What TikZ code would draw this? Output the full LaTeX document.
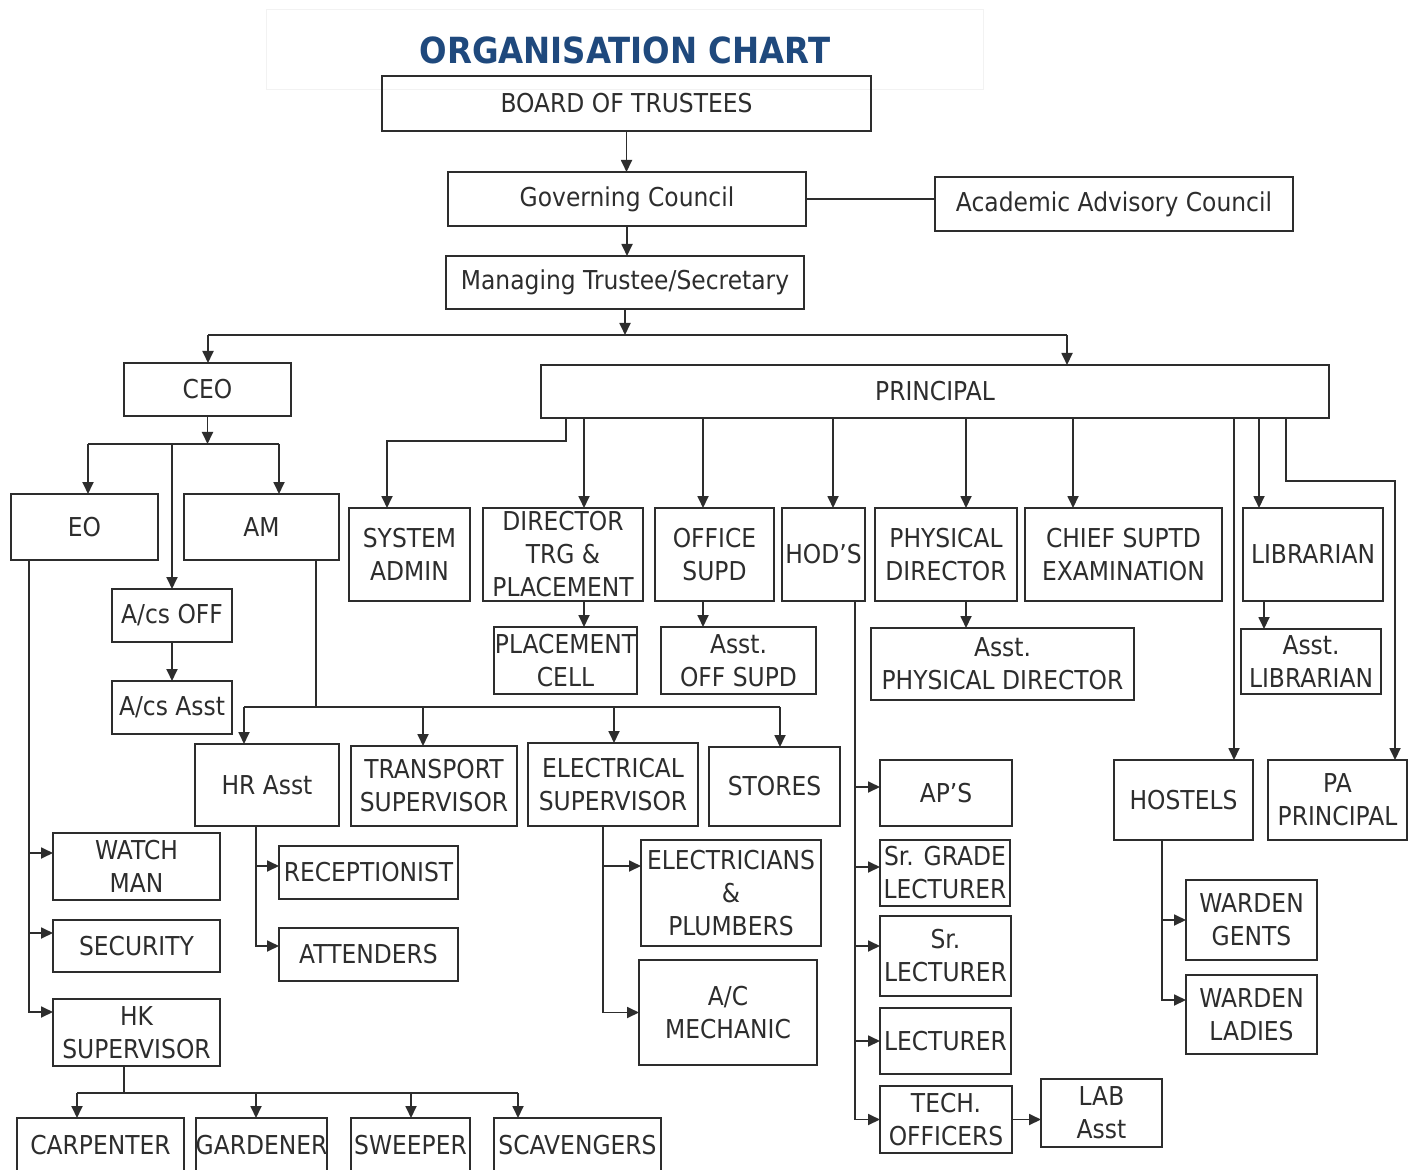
\documentclass[tikz,border=0pt]{standalone}
\usepackage{fontspec}
\setmainfont{DejaVu Sans}[FakeStretch=0.9]
\usetikzlibrary{arrows.meta,calc}
\definecolor{titleblue}{RGB}{31,73,125}
\definecolor{ink}{RGB}{45,45,45}
\newcommand\mybox[6]{%
  \node[boxst,minimum width={(#4-#2)*0.5pt},minimum height={(#5-#3)*0.5pt}] (#1) at ({(#2+#4)/2},{(#3+#5)/2}) {};
  \node[txt] (#1-t) at (#1.center) {#6};}
\begin{document}
\begin{tikzpicture}[x=0.5pt,y=-0.5pt,
  boxst/.style={draw=ink,line width=1pt,rectangle,inner sep=0pt,outer sep=0pt},
  txt/.style={inner sep=0pt,align=center,text=ink,font=\fontsize{13}{16.5}\selectfont},
  ln/.style={draw=ink,line width=0.9pt},
  arr/.style={ln,-{Triangle[length=6pt,width=5.5pt]}}]
\clip (0,0) rectangle (1417,1170);
\fill[white] (0,0) rectangle (1417,1170);
% title
\draw[black!5,line width=0.5pt] (266,10) rectangle (983,90);
\node[inner sep=0pt,text=titleblue,font=\fontsize{18}{20}\selectfont\bfseries] (title) at (625,50) {ORGANISATION CHART};
% top
\mybox{bot}{382}{76}{871}{131}{BOARD OF TRUSTEES}
\mybox{gov}{448}{172}{806}{226}{Governing Council}
\mybox{aac}{935}{177}{1293}{231}{Academic Advisory Council}
\mybox{mts}{446}{256}{804}{309}{Managing Trustee/Secretary}
\mybox{ceo}{124}{363}{291}{416}{CEO}
\mybox{prin}{541}{365}{1329}{418}{PRINCIPAL}
% CEO side
\mybox{eo}{11}{494}{158}{560}{EO}
\mybox{am}{184}{494}{339}{560}{AM}
\mybox{acsoff}{112}{589}{232}{642}{A/cs OFF}
\mybox{acsasst}{112}{681}{232}{734}{A/cs Asst}
\mybox{watch}{53}{833}{220}{900}{WATCH\\MAN}
\mybox{sec}{53}{920}{220}{972}{SECURITY}
\mybox{hk}{53}{999}{220}{1066}{HK\\SUPERVISOR}
\mybox{carp}{17}{1118}{184}{1173}{CARPENTER}
\mybox{gard}{196}{1118}{327}{1173}{GARDENER}
\mybox{sweep}{351}{1118}{470}{1173}{SWEEPER}
\mybox{scav}{494}{1118}{661}{1173}{SCAVENGERS}
\mybox{hr}{195}{744}{339}{826}{HR Asst}
\mybox{trans}{351}{746}{517}{826}{TRANSPORT\\SUPERVISOR}
\mybox{elec}{528}{743}{698}{826}{ELECTRICAL\\SUPERVISOR}
\mybox{stores}{709}{747}{840}{826}{STORES}
\mybox{recep}{279}{846}{458}{899}{RECEPTIONIST}
\mybox{atten}{279}{928}{458}{981}{ATTENDERS}
\mybox{elecp}{641}{840}{821}{946}{ELECTRICIANS\\\&\\PLUMBERS}
\mybox{acm}{639}{960}{817}{1065}{A/C\\MECHANIC}
% principal side
\mybox{sys}{349}{508}{470}{601}{SYSTEM\\ADMIN}
\mybox{dir}{483}{508}{643}{601}{DIRECTOR\\TRG \&\\PLACEMENT}
\mybox{pc}{494}{627}{637}{694}{PLACEMENT\\CELL}
\mybox{off}{655}{508}{774}{601}{OFFICE\\SUPD}
\mybox{aoff}{661}{627}{816}{694}{Asst.\\OFF SUPD}
\mybox{hod}{782}{508}{865}{601}{HOD’S}
\mybox{phys}{875}{508}{1017}{601}{PHYSICAL\\DIRECTOR}
\mybox{aphys}{871}{628}{1134}{700}{Asst.\\PHYSICAL DIRECTOR}
\mybox{chief}{1025}{508}{1222}{601}{CHIEF SUPTD\\EXAMINATION}
\mybox{lib}{1243}{508}{1383}{601}{LIBRARIAN}
\mybox{alib}{1241}{629}{1381}{694}{Asst.\\LIBRARIAN}
\mybox{aps}{880}{760}{1012}{826}{AP’S}
\mybox{srg}{880}{840}{1010}{906}{Sr. GRADE\\LECTURER}
\mybox{srl}{880}{916}{1011}{996}{Sr.\\LECTURER}
\mybox{lect}{880}{1008}{1011}{1074}{LECTURER}
\mybox{tech}{880}{1086}{1012}{1153}{TECH.\\OFFICERS}
\mybox{lab}{1041}{1079}{1162}{1147}{LAB\\Asst}
\mybox{hostels}{1114}{760}{1253}{840}{HOSTELS}
\mybox{pa}{1268}{760}{1407}{840}{PA\\PRINCIPAL}
\mybox{gents}{1186}{880}{1317}{960}{WARDEN\\GENTS}
\mybox{ladies}{1186}{975}{1317}{1054}{WARDEN\\LADIES}
% ---- connectors: top
\draw[arr] (bot.south) -- (bot.south |- gov.north);
\draw[ln] (gov.east) -- (gov.east -| aac.west);
\draw[arr] (gov.south) -- (gov.south |- mts.north);
\coordinate (b1) at (625,335);
\coordinate (b1L) at (208,335);
\coordinate (b1R) at (1067,335);
\draw[arr] (mts.south) -- (mts.south |- b1);
\draw[ln] (b1L) -- (b1R);
\draw[arr] (b1L) -- (b1L |- ceo.north);
\draw[arr] (b1R) -- (b1R |- prin.north);
% CEO
\coordinate (c1L) at (88,444);
\coordinate (c1R) at (279,444);
\draw[arr] (ceo.south) -- (ceo.south |- c1L);
\draw[ln] (c1L) -- (c1R);
\draw[arr] (c1L) -- (c1L |- eo.north);
\draw[arr] (c1R) -- (c1R |- am.north);
\draw[arr] (acsoff.north |- c1L) -- (acsoff.north);
\draw[arr] (acsoff.south) -- (acsasst.north);
% EO
\coordinate (e1) at ($(eo.south west)+(18,0)$);
\coordinate (wA) at ($(watch.north west)+(0,20)$);
\coordinate (sA) at ($(sec.north west)+(0,13)$);
\coordinate (kA) at ($(hk.north west)+(0,13)$);
\draw[arr] (e1) |- (kA);
\draw[arr] (e1 |- wA) -- (wA);
\draw[arr] (e1 |- sA) -- (sA);
% HK
\coordinate (h1) at (124,1093);
\coordinate (h1L) at (77,1093);
\coordinate (h2) at (256,1093);
\coordinate (h3) at (411,1093);
\coordinate (h1R) at (518,1093);
\draw[ln] (h1 |- hk.south) -- (h1);
\draw[ln] (h1L) -- (h1R);
\draw[arr] (h1L) -- (h1L |- carp.north);
\draw[arr] (h2) -- (h2 |- gard.north);
\draw[arr] (h3) -- (h3 |- sweep.north);
\draw[arr] (h1R) -- (h1R |- scav.north);
% AM
\coordinate (a1) at (316,707);
\coordinate (a1L) at (244,707);
\coordinate (a2) at (423,707);
\coordinate (a3) at (614,707);
\coordinate (a1R) at (780,707);
\draw[ln] (a1 |- am.south) -- (a1);
\draw[ln] (a1L) -- (a1R);
\draw[arr] (a1L) -- (a1L |- hr.north);
\draw[arr] (a2) -- (a2 |- trans.north);
\draw[arr] (a3) -- (a3 |- elec.north);
\draw[arr] (a1R) -- (a1R |- stores.north);
% HR
\coordinate (r1) at (256,0);
\coordinate (rA) at ($(recep.north west)+(0,20)$);
\coordinate (rB) at ($(atten.north west)+(0,18)$);
\draw[arr] (r1 |- hr.south) |- (rB);
\draw[arr] (r1 |- rA) -- (rA);
% Electrical
\coordinate (el) at (603,0);
\coordinate (eA) at ($(elecp.north west)+(0,26)$);
\draw[arr] (el |- elec.south) |- (acm.west);
\draw[arr] (el |- eA) -- (eA);
% Principal
\coordinate (s1) at (566,441);
\coordinate (s2) at (387,441);
\draw[arr] (s1 |- prin.south) -- (s1) -- (s2) -- (s2 |- sys.north);
\coordinate (pd) at (584,0);
\draw[arr] (pd |- prin.south) -- (pd |- dir.north);
\draw[arr] (pd |- dir.south) -- (pd |- pc.north);
\coordinate (po) at (703,0);
\draw[arr] (po |- prin.south) -- (po |- off.north);
\draw[arr] (po |- off.south) -- (po |- aoff.north);
\coordinate (ph) at (833,0);
\draw[arr] (ph |- prin.south) -- (ph |- hod.north);
\coordinate (pp) at (966,0);
\draw[arr] (pp |- prin.south) -- (pp |- phys.north);
\draw[arr] (pp |- phys.south) -- (pp |- aphys.north);
\coordinate (pc1) at (1073,0);
\draw[arr] (pc1 |- prin.south) -- (pc1 |- chief.north);
\coordinate (pl) at (1259,0);
\coordinate (pl2) at (1264,0);
\draw[arr] (pl |- prin.south) -- (pl |- lib.north);
\draw[arr] (pl2 |- lib.south) -- (pl2 |- alib.north);
\coordinate (phs) at (1234,0);
\draw[arr] (phs |- prin.south) -- (phs |- hostels.north);
\coordinate (pa1) at (1286,481);
\coordinate (pa2) at (1395,481);
\draw[arr] (pa1 |- prin.south) -- (pa1) -- (pa2) -- (pa2 |- pa.north);
% HOD line
\coordinate (hx) at (855,0);
\coordinate (apsA) at ($(aps.north west)+(0,27)$);
\coordinate (srgA) at ($(srg.north west)+(0,27)$);
\coordinate (srlA) at ($(srl.north west)+(0,30)$);
\draw[ln] (hx |- hod.south) -- (hx |- tech.west);
\draw[arr] (hx |- apsA) -- (apsA);
\draw[arr] (hx |- srgA) -- (srgA);
\draw[arr] (hx |- srlA) -- (srlA);
\draw[arr] (hx |- lect.west) -- (lect.west);
\draw[arr] (hx |- tech.west) -- (tech.west);
\draw[arr] (tech.east) -- (tech.east -| lab.west);
% Hostels
\coordinate (hx2) at (1162,0);
\coordinate (ladA) at ($(ladies.north west)+(0,25)$);
\draw[arr] (hx2 |- hostels.south) |- (ladA);
\draw[arr] (hx2 |- gents.west) -- (gents.west);
\end{tikzpicture}
\end{document}
